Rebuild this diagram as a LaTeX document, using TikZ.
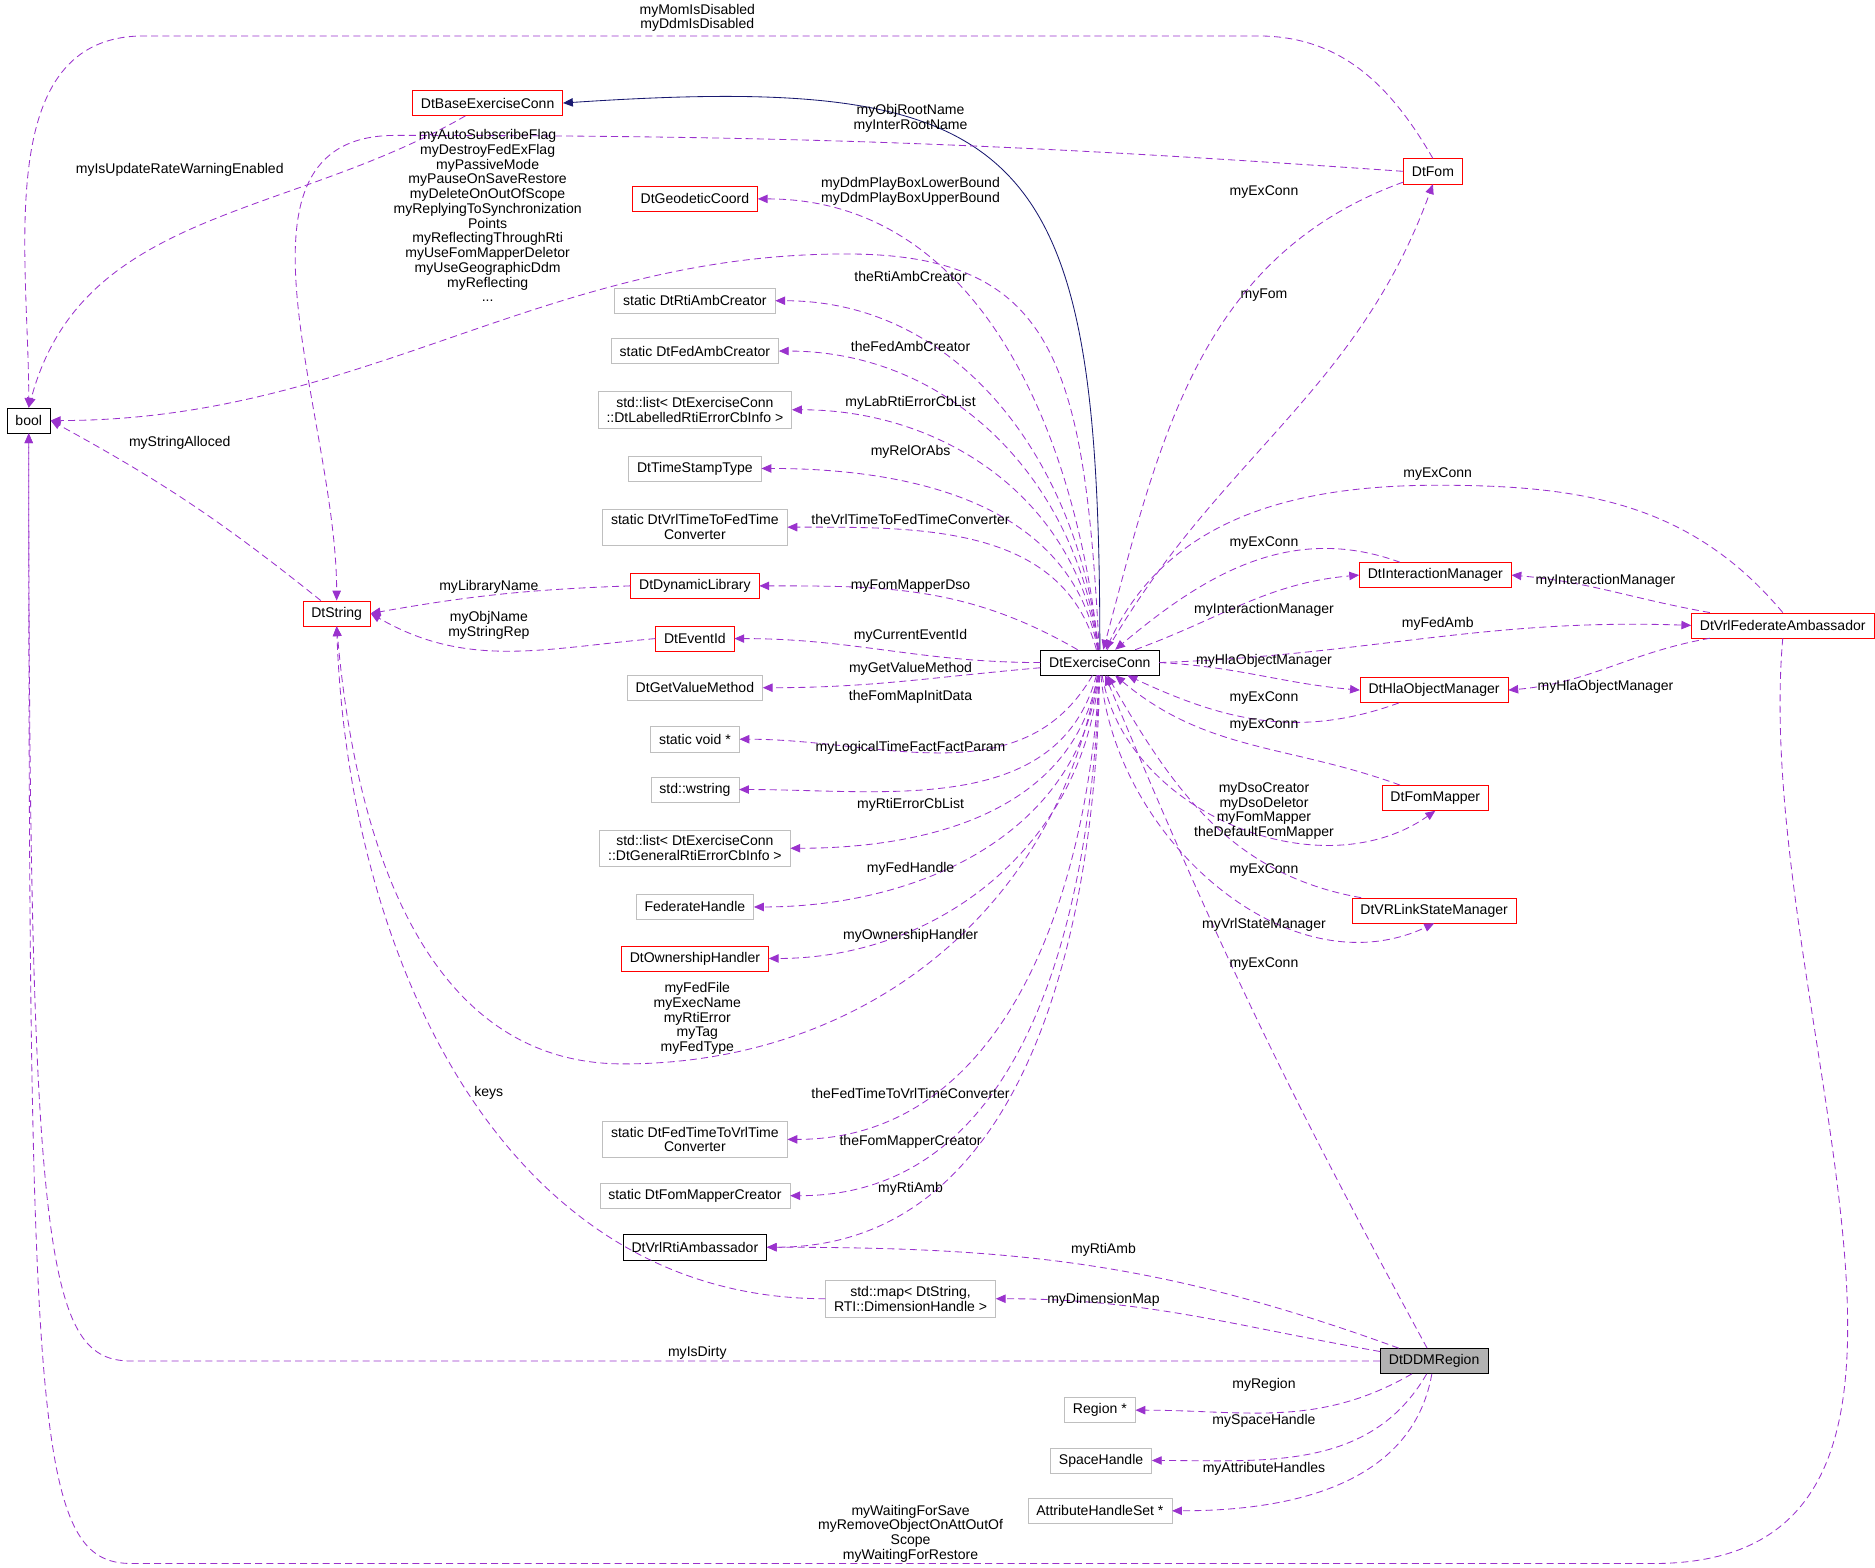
\documentclass[tikz,border=0pt]{standalone}
\usepackage{fontspec}
\setmainfont{Liberation Sans}
\usetikzlibrary{arrows.meta}

\definecolor{edgepurple}{HTML}{9A32CD}
\definecolor{edgenavy}{HTML}{191970}

\tikzset{
  cls/.style={draw, rectangle, fill=white, inner xsep=6pt, inner ysep=4pt, minimum height=0.63cm,
    align=center, font=\fontsize{10}{10.5}\selectfont},
  redcls/.style={cls, draw=red},
  graycls/.style={cls, draw=black!25},
  blkcls/.style={cls, draw=black},
  mem/.style={draw=edgepurple, dashed, dash pattern=on 5pt off 3pt, line width=0.6pt,
    -{Triangle[length=7pt,width=6pt,fill=edgepurple]}},
  inh/.style={draw=edgenavy, line width=0.6pt, -{Triangle[length=7pt,width=6pt,fill=edgenavy]}},
  lbl/.style={align=center, inner sep=0pt, font=\fontsize{10}{10.5}\selectfont}
}

\begin{document}
\begin{tikzpicture}[x=0.03cm, y=0.03cm]
\useasboundingbox (0,0) rectangle (1565,-1308);

% classes, left
\node[blkcls] (bool) at (24,-351) {bool};
\node[redcls] (base) at (407,-86) {DtBaseExerciseConn};
\node[redcls] (str) at (281,-512) {DtString};

% member column
\node[redcls]  (geo) at (580,-166) {DtGeodeticCoord};
\node[graycls] (rtiac) at (580,-251) {static DtRtiAmbCreator};
\node[graycls] (fedac) at (580,-293) {static DtFedAmbCreator};
\node[graycls] (lablist) at (580,-342) {std::list< DtExerciseConn\\::DtLabelledRtiErrorCbInfo >};
\node[graycls] (tst) at (580,-391) {DtTimeStampType};
\node[graycls] (v2f) at (580,-440) {static DtVrlTimeToFedTime\\Converter};
\node[redcls]  (dyn) at (580,-489) {DtDynamicLibrary};
\node[redcls]  (evt) at (580,-533) {DtEventId};
\node[graycls] (gvm) at (580,-574) {DtGetValueMethod};
\node[graycls] (vptr) at (580,-617) {static void *};
\node[graycls] (wstr) at (580,-659) {std::wstring};
\node[graycls] (genlist) at (580,-708) {std::list< DtExerciseConn\\::DtGeneralRtiErrorCbInfo >};
\node[graycls] (fedh) at (580,-757) {FederateHandle};
\node[redcls]  (own) at (580,-800) {DtOwnershipHandler};
\node[graycls] (f2v) at (580,-951) {static DtFedTimeToVrlTime\\Converter};
\node[graycls] (fmc) at (580,-998) {static DtFomMapperCreator};
\node[blkcls]  (rti) at (580,-1041) {DtVrlRtiAmbassador};
\node[graycls] (dmap) at (760,-1084) {std::map< DtString,\\RTI::DimensionHandle >};

% centre and right
\node[blkcls]  (ec) at (918,-553) {DtExerciseConn};
\node[redcls]  (fom) at (1196,-143) {DtFom};
\node[redcls]  (im) at (1198,-480) {DtInteractionManager};
\node[redcls]  (hla) at (1197,-576) {DtHlaObjectManager};
\node[redcls]  (fm) at (1198,-666) {DtFomMapper};
\node[redcls]  (vl) at (1197,-760) {DtVRLinkStateManager};
\node[redcls]  (vf) at (1488,-522) {DtVrlFederateAmbassador};
\node[blkcls, fill=black!30] (ddm) at (1197,-1136) {DtDDMRegion};
\node[graycls] (reg) at (918,-1177) {Region *};
\node[graycls] (sph) at (919,-1219) {SpaceHandle};
\node[graycls] (ahs) at (918,-1261) {AttributeHandleSet *};

% inheritance
\draw[inh] (ec.north) .. controls (918,-120) and (860,-60) .. (base.east);

% members of bool
\draw[mem] (base) to[out=-150,in=75] (bool.north);
\draw[mem] (fom.north) to[out=120,in=0] (1050,-30) -- (120,-30) to[out=180,in=90] (bool.north);
\draw[mem] (str) to[bend right=5] (bool.east);
\draw[mem] (ec) .. controls (905,-300) and (880,-210) .. (700,-212) .. controls (450,-214) and (300,-351) .. (bool.east);
\draw[mem] (ddm.west) -- (110,-1136) .. controls (40,-1136) and (24,-1060) .. (bool.south);
\draw[mem] (vf.south) to[out=-95,in=0] (1380,-1305) -- (110,-1305) .. controls (30,-1305) and (24,-1200) .. (bool.south);

% members of DtString
\draw[mem] (fom.west) to[out=176,in=0] (330,-113) to[out=180,in=90] (str.north);
\draw[mem] (dyn.west) to[bend right=4] (str.east);
\draw[mem] (evt.west) to[out=185,in=-30] (str.east);
\draw[mem] (ec) to[out=-100,in=0] (520,-888) to[out=180,in=-85] (str.south);
\draw[mem] (dmap.west) to[out=180,in=-88] (str.south);

% members of DtExerciseConn
\draw[mem] (ec) to[out=96,in=0] (geo.east);
\draw[mem] (ec) to[out=96,in=0] (rtiac.east);
\draw[mem] (ec) to[out=97,in=0] (fedac.east);
\draw[mem] (ec) to[out=98,in=0] (lablist.east);
\draw[mem] (ec) to[out=100,in=0] (tst.east);
\draw[mem] (ec) to[out=105,in=0] (v2f.east);
\draw[mem] (ec) to[out=150,in=0] (dyn.east);
\draw[mem] (ec) to[out=180,in=0] (evt.east);
\draw[mem] (ec) to[out=185,in=0] (gvm.east);
\draw[mem] (ec) to[out=-120,in=0] (vptr.east);
\draw[mem] (ec) to[out=-105,in=0] (wstr.east);
\draw[mem] (ec) to[out=-100,in=0] (genlist.east);
\draw[mem] (ec) to[out=-97,in=0] (fedh.east);
\draw[mem] (ec) to[out=-95,in=0] (own.east);
\draw[mem] (ec) to[out=-93,in=0] (f2v.east);
\draw[mem] (ec) to[out=-92,in=0] (fmc.east);
\draw[mem] (ec) to[out=-91,in=0] (rti.east);
\draw[mem] (ec) to[out=60,in=-110] (fom.south);
\draw[mem] (ec) to[out=20,in=185] (im.west);
\draw[mem] (ec.east) to[out=2,in=178] (vf.west);
\draw[mem] (ec.east) to[out=-3,in=175] (hla.west);
\draw[mem] (ec) to[out=-80,in=-145] (fm.south);
\draw[mem] (ec) to[out=-85,in=-155] (vl.south);

% back to DtExerciseConn
\draw[mem] (fom) to[out=-160,in=75] (ec);
\draw[mem] (im) to[out=160,in=40] (ec);
\draw[mem] (vf.north) to[out=130,in=0] (1200,-405) to[out=180,in=65] (ec);
\draw[mem] (hla) to[out=-160,in=-25] (ec);
\draw[mem] (fm) to[out=160,in=-40] (ec);
\draw[mem] (vl) to[out=170,in=-60] (ec);
\draw[mem] (ddm) to[bend left=3] (ec);

% DtVrlFederateAmbassador
\draw[mem] (vf) to[out=170,in=-5] (im.east);
\draw[mem] (vf) to[out=-170,in=5] (hla.east);

% DtDDMRegion
\draw[mem] (ddm) to[out=160,in=0] (rti.east);
\draw[mem] (ddm) to[out=170,in=0] (dmap.east);
\draw[mem] (ddm) to[out=-150,in=0] (reg.east);
\draw[mem] (ddm) to[out=-120,in=0] (sph.east);
\draw[mem] (ddm) to[out=-100,in=0] (ahs.east);

% labels
\node[lbl] at (582,-15) {myMomIsDisabled\\myDdmIsDisabled};
\node[lbl] at (150,-142) {myIsUpdateRateWarningEnabled};
\node[lbl] at (760,-99) {myObjRootName\\myInterRootName};
\node[lbl] at (407,-180) {myAutoSubscribeFlag\\myDestroyFedExFlag\\myPassiveMode\\myPauseOnSaveRestore\\myDeleteOnOutOfScope\\myReplyingToSynchronization\\Points\\myReflectingThroughRti\\myUseFomMapperDeletor\\myUseGeographicDdm\\myReflecting\\...};
\node[lbl] at (150,-370) {myStringAlloced};
\node[lbl] at (408,-490) {myLibraryName};
\node[lbl] at (408,-522) {myObjName\\myStringRep};
\node[lbl] at (582,-850) {myFedFile\\myExecName\\myRtiError\\myTag\\myFedType};
\node[lbl] at (408,-912) {keys};
\node[lbl] at (582,-1129) {myIsDirty};
\node[lbl] at (760,-1280) {myWaitingForSave\\myRemoveObjectOnAttOutOf\\Scope\\myWaitingForRestore};

\node[lbl] at (760,-160) {myDdmPlayBoxLowerBound\\myDdmPlayBoxUpperBound};
\node[lbl] at (760,-231) {theRtiAmbCreator};
\node[lbl] at (760,-289) {theFedAmbCreator};
\node[lbl] at (760,-336) {myLabRtiErrorCbList};
\node[lbl] at (760,-377) {myRelOrAbs};
\node[lbl] at (760,-434) {theVrlTimeToFedTimeConverter};
\node[lbl] at (760,-489) {myFomMapperDso};
\node[lbl] at (760,-531) {myCurrentEventId};
\node[lbl] at (760,-558) {myGetValueMethod};
\node[lbl] at (760,-582) {theFomMapInitData};
\node[lbl] at (760,-624) {myLogicalTimeFactFactParam};
\node[lbl] at (760,-672) {myRtiErrorCbList};
\node[lbl] at (760,-725) {myFedHandle};
\node[lbl] at (760,-781) {myOwnershipHandler};
\node[lbl] at (760,-913) {theFedTimeToVrlTimeConverter};
\node[lbl] at (760,-953) {theFomMapperCreator};
\node[lbl] at (760,-992) {myRtiAmb};

\node[lbl] at (1055,-160) {myExConn};
\node[lbl] at (1055,-246) {myFom};
\node[lbl] at (1200,-396) {myExConn};
\node[lbl] at (1055,-453) {myExConn};
\node[lbl] at (1055,-509) {myInteractionManager};
\node[lbl] at (1200,-521) {myFedAmb};
\node[lbl] at (1055,-552) {myHlaObjectManager};
\node[lbl] at (1055,-583) {myExConn};
\node[lbl] at (1055,-605) {myExConn};
\node[lbl] at (1055,-677) {myDsoCreator\\myDsoDeletor\\myFomMapper\\theDefaultFomMapper};
\node[lbl] at (1055,-726) {myExConn};
\node[lbl] at (1055,-772) {myVrlStateManager};
\node[lbl] at (1055,-805) {myExConn};
\node[lbl] at (1340,-485) {myInteractionManager};
\node[lbl] at (1340,-573) {myHlaObjectManager};

\node[lbl] at (921,-1043) {myRtiAmb};
\node[lbl] at (921,-1085) {myDimensionMap};
\node[lbl] at (1055,-1156) {myRegion};
\node[lbl] at (1055,-1186) {mySpaceHandle};
\node[lbl] at (1055,-1226) {myAttributeHandles};
\end{tikzpicture}
\end{document}
